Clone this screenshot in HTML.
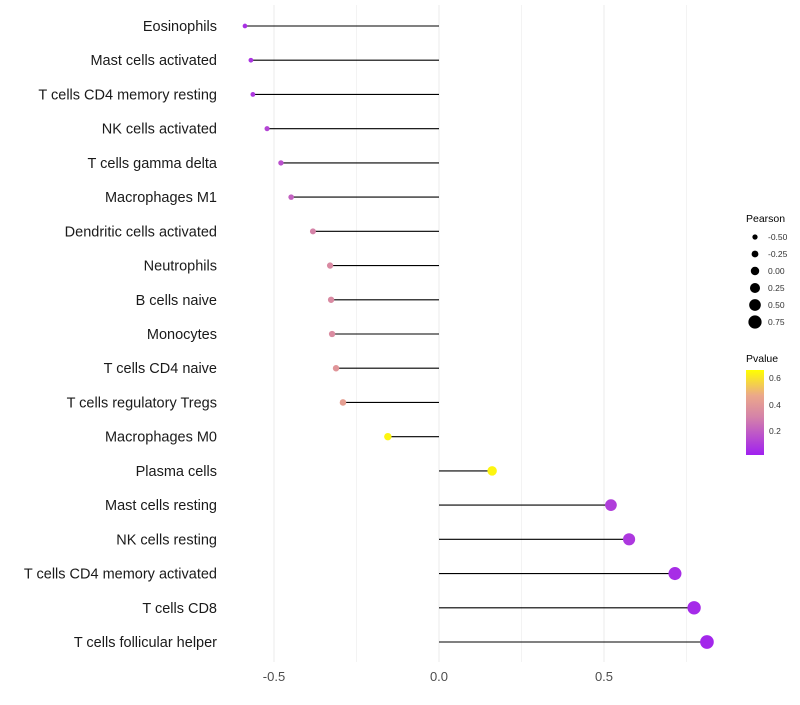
<!DOCTYPE html>
<html><head><meta charset="utf-8"><style>
body{margin:0;background:#fff;font-family:"Liberation Sans",sans-serif}
</style></head><body>
<svg id="c" width="800" height="700" xmlns="http://www.w3.org/2000/svg" font-family="Liberation Sans, sans-serif">
<defs><linearGradient id="pg" x1="0" y1="1" x2="0" y2="0">
<stop offset="0" stop-color="#A020F0"/><stop offset="0.45" stop-color="#D583A8"/><stop offset="0.7" stop-color="#EBA88A"/><stop offset="1" stop-color="#FFFF00"/></linearGradient></defs>
<g id="grid"></g><g id="marks"></g><g id="labels"></g>
<g id="leg1"><text x="746" y="222" font-size="10.5" fill="#000">Pearson</text></g>
<g><text x="746" y="362" font-size="10.5" fill="#000">Pvalue</text>
<rect x="746" y="370" width="18" height="85" fill="url(#pg)"/>
<text x="769" y="408" font-size="8.5" fill="#333">0.4</text>
<text x="769" y="381" font-size="8.5" fill="#333">0.6</text>
<text x="769" y="434" font-size="8.5" fill="#333">0.2</text>
</g>
</svg>
<script>
const categories=["Eosinophils","Mast cells activated","T cells CD4 memory resting","NK cells activated","T cells gamma delta","Macrophages M1","Dendritic cells activated","Neutrophils","B cells naive","Monocytes","T cells CD4 naive","T cells regulatory  Tregs ","Macrophages M0","Plasma cells","Mast cells resting","NK cells resting","T cells CD4 memory activated","T cells CD8","T cells follicular helper"];
const pearson=[-0.588,-0.570,-0.564,-0.521,-0.479,-0.448,-0.382,-0.330,-0.327,-0.324,-0.312,-0.291,-0.155,0.161,0.521,0.576,0.715,0.773,0.812];
const pvalues=[0.06,0.07,0.08,0.12,0.15,0.2,0.3,0.33,0.33,0.34,0.38,0.42,0.63,0.63,0.1,0.08,0.05,0.04,0.03];
const xTicks=[-0.5,0,0.5];
const xTickLabels=["-0.5","0.0","0.5"];
const sizeBreaks=[-0.5,-0.25,0,0.25,0.5,0.75];
const sizeLabels=["-0.50","-0.25","0.00","0.25","0.50","0.75"];
const NS="http://www.w3.org/2000/svg";
const x=v=>439+v*330;
const y=i=>26+i*(642-26)/18;
const r=p=>2.3+(p+0.6)*3.2;
function col(p){const t=Math.max(0,Math.min(1,(p-0.011)/(0.653-0.011)));
const st=[[0,[160,32,240]],[0.45,[213,131,168]],[0.7,[235,168,138]],[1,[255,255,0]]];
for(let k=1;k<st.length;k++){if(t<=st[k][0]){const a=st[k-1],b=st[k],f=(t-a[0])/(b[0]-a[0]);return "rgb("+a[1].map((c,j)=>Math.round(c+(b[1][j]-c)*f)).join(",")+")";}}return "rgb(255,255,0)";}
function mk(tag,at,par){const e=document.createElementNS(NS,tag);for(const k in at)e.setAttribute(k,at[k]);par.appendChild(e);return e;}
const g=document.getElementById("grid"),m=document.getElementById("marks"),lb=document.getElementById("labels");
[-0.25,0.25,0.75].forEach(v=>{const l=mk("line",{x1:x(v),x2:x(v),y1:5,y2:662,stroke:"#f3f3f3","stroke-width":1},g);

});
xTicks.forEach((v,i)=>{const l=mk("line",{x1:x(v),x2:x(v),y1:5,y2:662,stroke:"#ebebeb","stroke-width":1},g);


const t=mk("text",{x:x(v),y:681,"font-size":13,fill:"#4d4d4d","text-anchor":"middle"},lb);t.textContent=xTickLabels[i];

});
categories.forEach((c,i)=>{
const t=mk("text",{x:217,y:y(i)+5,"font-size":14.5,fill:"#1a1a1a","text-anchor":"end"},lb);t.textContent=c;


const l=mk("line",{x1:x(0),x2:x(pearson[i]),y1:y(i),y2:y(i),stroke:"#000","stroke-width":1.1},m);


const d=mk("circle",{cx:x(pearson[i]),cy:y(i),r:r(pearson[i]),fill:col(pvalues[i])},m);

});
const L=document.getElementById("leg1");
sizeBreaks.forEach((s,i)=>{const cy=237+i*17;
const d=mk("circle",{cx:755,cy:cy,r:r(s),fill:"#000"},L);


const t=mk("text",{x:768,y:cy+3,"font-size":8.5,fill:"#333"},L);t.textContent=sizeLabels[i];

});
</script>
</body></html>
